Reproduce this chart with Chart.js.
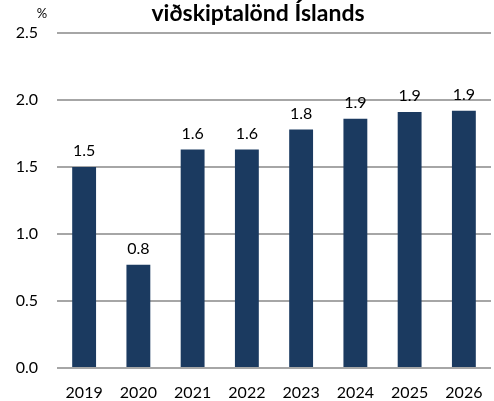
<!DOCTYPE html>
<html>
<head>
<meta charset="utf-8">
<script src="https://cdn.jsdelivr.net/npm/chart.js@4/dist/chart.umd.min.js"></script>
<style>
  html, body { margin: 0; padding: 0; background: #fff; }
  #wrap { width: 494px; height: 401px; position: relative; }
</style>
</head>
<body>
<div id="wrap"><canvas id="c"></canvas></div>
<script>
// Chart data
const years = ['2019', '2020', '2021', '2022', '2023', '2024', '2025', '2026'];
const growth = [1.50, 0.77, 1.63, 1.63, 1.78, 1.86, 1.91, 1.92];
const titleText = 'viðskiptalönd Íslands';
const unitText = '%';

const FONT = "Lato, 'Noto Sans', sans-serif";
const BAR_COLOR = '#1b3a60';
const GRID_COLOR = '#a6a6a6';

// Title, unit label and value labels drawn straight onto the canvas
const textPlugin = {
    id: 'textPlugin',
    afterDraw(chart) {
        const ctx = chart.ctx;
        ctx.save();
        ctx.fillStyle = '#000';

        ctx.font = 'bold 23px ' + FONT;
        ctx.textAlign = 'center';
        ctx.textBaseline = 'alphabetic';
        ctx.fillText(titleText, 258, 21);

        ctx.font = '13px ' + FONT;
        ctx.fillText(unitText, 42, 18);

        ctx.font = '16px ' + FONT;
        ctx.textBaseline = 'bottom';
        const meta = chart.getDatasetMeta(0);
        meta.data.forEach((bar, i) => {
            ctx.fillText(growth[i].toFixed(1), bar.x, bar.y - 8);
        });
        ctx.restore();
    }
};

new Chart(document.getElementById('c'), {
    type: 'bar',
    data: {
        labels: years,
        datasets: [{
            data: growth,
            backgroundColor: BAR_COLOR,
            borderWidth: 0,
            categoryPercentage: 1,
            barPercentage: 0.44
        }]
    },
    options: {
        responsive: true,
        maintainAspectRatio: false,
        animation: false,
        layout: { padding: { top: 33, right: 3, bottom: 0, left: 0 } },
        plugins: {
            legend: { display: false },
            title: { display: false },
            tooltip: { enabled: false }
        },
        scales: {
            x: {
                afterFit: scale => { scale.height = 33; },
                grid: { display: false },
                border: { display: false },
                ticks: { color: '#000', font: { family: FONT, size: 16 }, padding: 7 }
            },
            y: {
                min: 0,
                max: 2.5,
                afterFit: scale => { scale.width = 57; },
                grid: { color: GRID_COLOR, lineWidth: 2, drawTicks: false },
                border: { display: false },
                ticks: {
                    stepSize: 0.5,
                    color: '#000',
                    padding: 19,
                    font: { family: FONT, size: 16 },
                    callback: v => v.toFixed(1)
                }
            }
        }
    },
    plugins: [textPlugin]
});
</script>
</body>
</html>
